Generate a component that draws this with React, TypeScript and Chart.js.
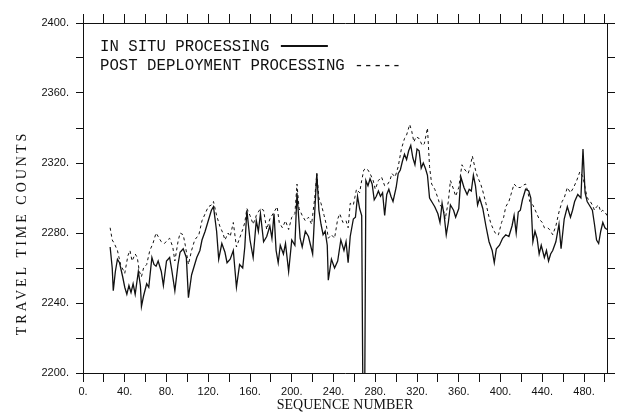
import React, { useEffect, useRef } from 'react';
import { Chart, registerables } from 'chart.js';

Chart.register(...registerables);

// ---- DATA ----
const seqInSitu = [
  26, 28, 29, 31, 33, 35, 38, 40, 42, 44, 46, 48, 50, 53, 55, 56, 58, 61, 63, 66,
  68, 70, 72, 75, 77, 80, 83, 85, 88, 91, 93, 96, 99, 101, 104, 107, 109, 112, 114, 117,
  119, 121, 123, 125, 128, 130, 133, 136, 138, 141, 144, 147, 150, 153, 155, 157, 160, 163, 166, 168,
  170, 173, 176, 179, 181, 183, 185, 187, 189, 192, 194, 197, 200, 203, 205, 208, 210, 213, 216, 218,
  220, 222, 224, 226, 228, 230, 232, 234, 235, 238, 241, 244, 247, 250, 252, 254, 256, 259, 261, 263,
  265, 267, 268, 270, 271, 273, 275, 277, 279, 281, 283, 285, 287, 289, 291, 293, 295, 297, 300, 302,
  304, 306, 308, 310, 312, 314, 316, 318, 320, 322, 324, 326, 328, 330, 332, 335, 337, 340, 342, 344,
  346, 348, 350, 352, 355, 357, 360, 362, 365, 368, 370, 372, 374, 376, 378, 380, 383, 386, 389, 392,
  394, 396, 399, 402, 405, 408, 411, 413, 415, 417, 419, 421, 424, 427, 429, 431, 433, 435, 437, 439,
  442, 444, 446, 448, 450, 453, 456, 458, 461, 464, 467, 469, 471, 474, 477, 479, 481, 483, 485, 488,
  490, 492, 494, 496, 498, 500, 502,
];
const inSitu = [
  2272, 2260, 2247, 2258, 2265, 2263, 2255, 2249, 2245, 2250, 2246, 2251, 2245, 2258, 2250, 2238, 2244, 2251, 2249, 2266,
  2262, 2261, 2264, 2258, 2250, 2264, 2266, 2259, 2247, 2262, 2269, 2271, 2266, 2243, 2256, 2262, 2266, 2270, 2276, 2281,
  2285, 2289, 2293, 2295, 2281, 2265, 2274, 2269, 2263, 2265, 2270, 2249, 2262, 2260, 2272, 2293, 2276, 2266, 2287, 2281,
  2291, 2275, 2278, 2284, 2277, 2291, 2270, 2263, 2273, 2268, 2274, 2258, 2276, 2273, 2303, 2277, 2272, 2281, 2278, 2273,
  2268, 2292, 2314, 2293, 2285, 2279, 2281, 2273, 2253, 2265, 2260, 2264, 2276, 2270, 2275, 2263, 2278, 2288, 2289, 2301,
  2294, 2290, 2199, 2199, 2310, 2307, 2311, 2308, 2299, 2301, 2304, 2301, 2303, 2290, 2302, 2305, 2301, 2298, 2306, 2314,
  2316, 2321, 2325, 2322, 2327, 2330, 2323, 2319, 2328, 2327, 2317, 2320, 2317, 2313, 2300, 2297, 2295, 2291, 2286, 2297,
  2290, 2279, 2286, 2296, 2293, 2289, 2294, 2312, 2306, 2302, 2305, 2304, 2313, 2307, 2296, 2300, 2294, 2284, 2275, 2270,
  2263, 2271, 2273, 2277, 2279, 2278, 2284, 2290, 2280, 2292, 2293, 2299, 2305, 2304, 2300, 2275, 2281, 2277, 2268, 2273,
  2266, 2270, 2264, 2268, 2270, 2275, 2285, 2271, 2288, 2295, 2289, 2293, 2298, 2302, 2300, 2328, 2303, 2298, 2296, 2293,
  2285, 2276, 2274, 2281, 2286, 2283, 2282,
];

const seqPost = [
  26, 28, 30, 33, 36, 40, 43, 45, 47, 50, 52, 54, 56, 58, 61, 64, 67, 70, 73, 75,
  78, 81, 83, 86, 88, 91, 93, 96, 98, 101, 104, 107, 111, 114, 117, 120, 123, 125, 128, 131,
  134, 136, 139, 141, 144, 147, 150, 153, 155, 157, 160, 163, 166, 170, 173, 176, 179, 183, 186, 188,
  191, 194, 197, 200, 203, 205, 207, 210, 213, 216, 219, 222, 224, 226, 228, 231, 233, 235, 238, 241,
  244, 246, 249, 252, 254, 256, 259, 262, 265, 267, 269, 271, 273, 275, 278, 280, 283, 286, 289, 292,
  294, 296, 299, 302, 305, 308, 310, 313, 315, 317, 319, 322, 325, 327, 330, 332, 334, 337, 340, 342,
  345, 347, 350, 352, 355, 357, 360, 363, 366, 369, 371, 373, 376, 378, 381, 383, 386, 389, 391, 394,
  396, 398, 401, 403, 405, 408, 410, 413, 416, 419, 421, 424, 426, 428, 431, 434, 437, 440, 442, 445,
  447, 450, 453, 456, 459, 461, 464, 467, 470, 473, 476, 479, 481, 483, 485, 488, 490, 492, 494, 496,
  498, 500, 502,
];
const post = [
  2283, 2276, 2274, 2270, 2262, 2257, 2267, 2270, 2264, 2268, 2266, 2258, 2255, 2260, 2262, 2270, 2274, 2280, 2277, 2275,
  2274, 2276, 2277, 2272, 2264, 2275, 2280, 2279, 2273, 2262, 2270, 2276, 2279, 2287, 2291, 2295, 2296, 2298, 2290, 2284,
  2280, 2276, 2280, 2278, 2286, 2272, 2277, 2282, 2286, 2294, 2290, 2285, 2290, 2294, 2293, 2282, 2288, 2292, 2295, 2286,
  2283, 2287, 2282, 2289, 2291, 2308, 2294, 2290, 2287, 2289, 2285, 2300, 2314, 2300, 2297, 2290, 2285, 2277, 2279, 2277,
  2288, 2291, 2286, 2287, 2283, 2297, 2296, 2305, 2303, 2310, 2316, 2317, 2316, 2314, 2310, 2305, 2310, 2312, 2307, 2308,
  2310, 2314, 2312, 2318, 2328, 2334, 2336, 2342, 2338, 2332, 2335, 2334, 2330, 2331, 2340, 2318, 2308, 2305, 2300, 2296,
  2294, 2288, 2298, 2310, 2305, 2301, 2306, 2319, 2316, 2314, 2318, 2324, 2316, 2312, 2308, 2304, 2297, 2289, 2285, 2281,
  2279, 2279, 2286, 2289, 2295, 2298, 2302, 2308, 2306, 2306, 2307, 2308, 2304, 2298, 2296, 2292, 2288, 2286, 2283, 2283,
  2282, 2279, 2284, 2292, 2298, 2300, 2306, 2303, 2306, 2310, 2315, 2312, 2306, 2300, 2299, 2296, 2293, 2295, 2296, 2292,
  2293, 2292, 2290,
];

const xLabelValues = [0, 40, 80, 120, 160, 200, 240, 280, 320, 360, 400, 440, 480];
const yLabelValues = [2200, 2240, 2280, 2320, 2360, 2400];
const xRange = [0, 502];
const yRange = [2200, 2400];
const legendInSitu = 'IN SITU PROCESSING';
const legendPost = 'POST DEPLOYMENT PROCESSING -----';
const xTitle = 'SEQUENCE NUMBER';
const yTitle = 'TRAVEL TIME COUNTS';

const INK = '#111';

const annotations = {
  id: 'annotations',
  afterDraw(chart: any) {
    const { ctx, chartArea } = chart;
    ctx.save();
    ctx.fillStyle = INK;
    ctx.strokeStyle = INK;
    ctx.font = '15.7px "Liberation Mono"';
    ctx.textBaseline = 'middle';
    ctx.textAlign = 'left';
    const lx = chartArea.left + 17;
    const ly1 = chartArea.top + 24;
    const ly2 = chartArea.top + 43;
    ctx.fillText(legendInSitu, lx, ly1);
    const w = ctx.measureText(legendInSitu + ' ').width;
    ctx.lineWidth = 2;
    ctx.beginPath();
    ctx.moveTo(lx + w + 2, ly1 - 1);
    ctx.lineTo(lx + w + 49, ly1 - 1);
    ctx.stroke();
    ctx.fillText(legendPost, lx, ly2);
    ctx.translate(22, 233);
    ctx.rotate(-Math.PI / 2);
    ctx.font = '14px "Liberation Serif"';
    (ctx as any).letterSpacing = '3px';
    ctx.textAlign = 'center';
    ctx.fillText(yTitle, 0, 0);
    ctx.restore();
  },
};

export default function App() {
  const ref = useRef<HTMLCanvasElement>(null);
  useEffect(() => {
    if (!ref.current) return;
    const tickFont = { family: '"Liberation Sans"', size: 11 };
    const chart = new Chart(ref.current, {
      type: 'line',
      data: {
        datasets: [
          {
            label: legendInSitu,
            data: seqInSitu.map((x, i) => ({ x, y: inSitu[i] })),
            borderColor: INK,
            borderWidth: 1.3,
            pointRadius: 0,
            tension: 0,
            fill: false,
          },
          {
            label: 'POST DEPLOYMENT PROCESSING',
            data: seqPost.map((x, i) => ({ x, y: post[i] })),
            borderColor: INK,
            borderWidth: 1,
            borderDash: [3, 3],
            pointRadius: 0,
            tension: 0,
            fill: false,
          },
        ],
      },
      options: {
        responsive: false,
        animation: false,
        parsing: false as any,
        layout: { padding: 0 },
        plugins: { legend: { display: false }, tooltip: { enabled: false } },
        scales: {
          x: {
            type: 'linear',
            position: 'bottom',
            min: xRange[0],
            max: xRange[1],
            afterFit: (s: any) => { s.height = 41; },
            grid: { drawOnChartArea: false, drawTicks: true, tickLength: 9, color: INK, tickColor: INK },
            border: { display: true, color: INK, width: 1 },
            ticks: {
              stepSize: 20,
              includeBounds: false,
              autoSkip: false,
              maxRotation: 0,
              padding: 3,
              color: INK,
              font: tickFont,
              callback: (v: any) => (xLabelValues.includes(Number(v)) ? `${v}.` : ''),
            },
            title: {
              display: true,
              text: xTitle,
              color: INK,
              font: { family: '"Liberation Serif"', size: 14 },
              padding: 0,
            },
          },
          x2: {
            type: 'linear',
            position: 'top',
            min: xRange[0],
            max: xRange[1],
            afterFit: (s: any) => { s.height = 23; },
            grid: { drawOnChartArea: false, drawTicks: true, tickLength: 9, color: INK, tickColor: INK },
            border: { display: true, color: INK, width: 1 },
            ticks: { display: false, stepSize: 20, includeBounds: false, autoSkip: false },
          },
          y: {
            type: 'linear',
            position: 'left',
            min: yRange[0],
            max: yRange[1],
            afterFit: (s: any) => { s.width = 83; },
            grid: { drawOnChartArea: false, drawTicks: true, tickLength: 7, color: INK, tickColor: INK },
            border: { display: true, color: INK, width: 1 },
            ticks: {
              stepSize: 20,
              autoSkip: false,
              padding: 7,
              color: INK,
              font: tickFont,
              callback: (v: any) => (yLabelValues.includes(Number(v)) ? `${v}.` : ''),
            },
          },
          y2: {
            type: 'linear',
            position: 'right',
            min: yRange[0],
            max: yRange[1],
            afterFit: (s: any) => { s.width = 13; },
            grid: { drawOnChartArea: false, drawTicks: true, tickLength: 8, color: INK, tickColor: INK },
            border: { display: true, color: INK, width: 1 },
            ticks: { display: false, stepSize: 20, autoSkip: false },
          },
        },
      } as any,
      plugins: [annotations],
    });
    return () => chart.destroy();
  }, []);
  return (
    <div style={{ position: 'absolute', left: 0, top: 0, width: 620, height: 414, background: '#fff' }}>
      <canvas ref={ref} width={620} height={414} style={{ display: 'block' }} />
    </div>
  );
}
